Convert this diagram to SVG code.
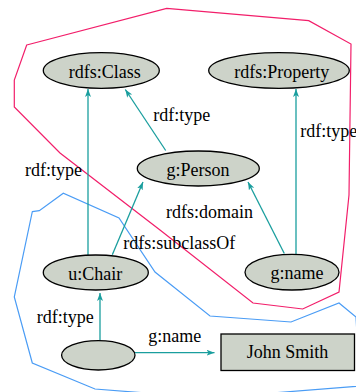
<svg xmlns="http://www.w3.org/2000/svg" width="356" height="392" viewBox="0 0 356 392">
<style>
.node{fill:#cdd3c9;stroke:#000;stroke-width:1.3}
.lbl{font-family:"Liberation Serif","Times New Roman",serif;font-size:18px;fill:#000}
.mid{text-anchor:middle}
.edge{stroke:#1a9e9e;stroke-width:1.3;fill:none;marker-end:url(#arr)}
.region{fill:none;stroke-width:1.2}
</style>
<defs>
<marker id="arr" markerUnits="userSpaceOnUse" markerWidth="10" markerHeight="8" refX="8" refY="3" orient="auto">
<path d="M0,0 L8,3 L0,6 L2,3 z" fill="#1a9e9e"/>
</marker>
</defs>
<g id="regions">
<polygon class="region" stroke="#f21e6a" points="26.7,45 166.7,8.3 308.7,20.7 351,44 349,195 339,292 302.7,309 253,303 160,230 60,153 14.3,107 14.3,80"/>
<polygon class="region" stroke="#4a9cf5" points="32.3,211.7 39.3,210.7 63.3,193.3 119,218 155,272 210,316 291,322 339,303 356,317 360,386 210,398 95,389 32.3,363 14.3,297"/>
</g>
<g id="connectors">
<line class="edge" x1="88" y1="255" x2="88" y2="89"/>
<line class="edge" x1="165.7" y1="150.5" x2="125.3" y2="89.5"/>
<line class="edge" x1="296" y1="254.3" x2="296" y2="89"/>
<line class="edge" x1="284.3" y1="253.5" x2="248" y2="182"/>
<line class="edge" x1="112.3" y1="254.8" x2="143" y2="182"/>
<line class="edge" x1="100" y1="340.7" x2="100" y2="293"/>
<line class="edge" x1="135" y1="352.7" x2="214.5" y2="352.7"/>
<text class="lbl" x="153.3" y="120.7">rdf:type</text>
<text class="lbl" x="25" y="176">rdf:type</text>
<text class="lbl" x="300.3" y="136.7">rdf:type</text>
<text class="lbl" x="166" y="217.5">rdfs:domain</text>
<text class="lbl" x="123.3" y="249.3">rdfs:subclassOf</text>
<text class="lbl" x="36.7" y="322.7">rdf:type</text>
<text class="lbl" x="148.3" y="341.7">g:name</text>
</g>
<g id="rdfs-class">
<ellipse class="node" cx="101.3" cy="70.5" rx="58" ry="17.8"/>
<text class="lbl mid" x="104.7" y="77.7">rdfs:Class</text>
</g>
<g id="rdfs-property">
<ellipse class="node" cx="279" cy="70.5" rx="70.3" ry="17.8"/>
<text class="lbl mid" x="281.8" y="77.7">rdfs:Property</text>
</g>
<g id="g-person">
<ellipse class="node" cx="198.3" cy="168.5" rx="61" ry="17.5"/>
<text class="lbl mid" x="198" y="175.7">g:Person</text>
</g>
<g id="u-chair">
<ellipse class="node" cx="95.8" cy="272.5" rx="52.5" ry="17.5"/>
<text class="lbl mid" x="95.2" y="280">u:Chair</text>
</g>
<g id="g-name">
<ellipse class="node" cx="292" cy="272.2" rx="47" ry="17.8"/>
<text class="lbl mid" x="297" y="279.3">g:name</text>
</g>
<g id="blank">
<ellipse class="node" cx="98.3" cy="355.3" rx="36.7" ry="14.7"/>
</g>
<g id="john-smith">
<rect class="node" x="221" y="334" width="133.5" height="36.5"/>
<text class="lbl mid" x="287.5" y="358.3">John Smith</text>
</g>
</svg>
